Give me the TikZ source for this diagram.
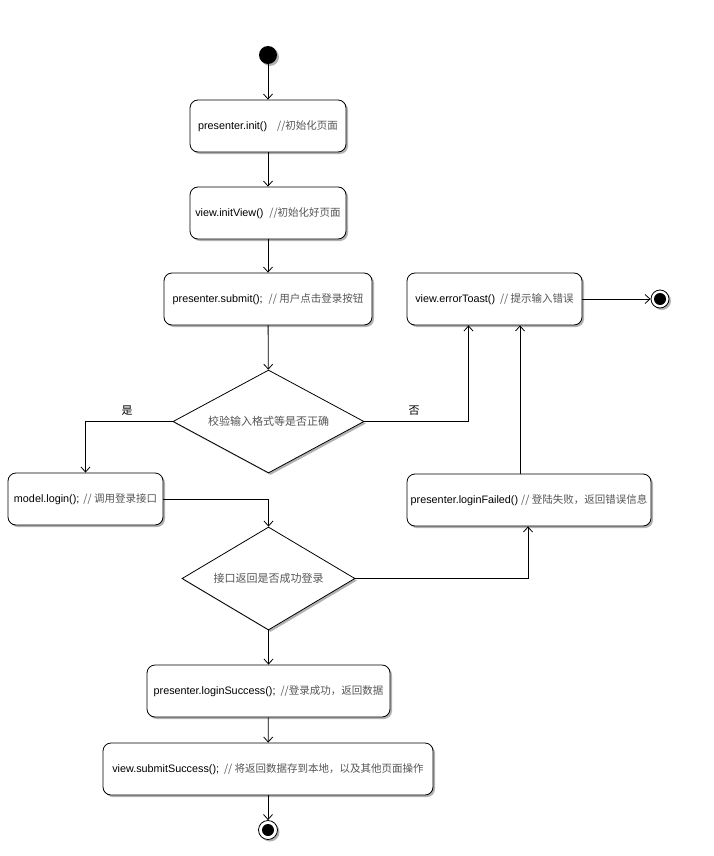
\documentclass[tikz,border=0pt]{standalone}
\usepackage{fontspec}
\setmainfont{Liberation Sans}
\newfontfamily\cjk{Noto Sans CJK SC}
\usetikzlibrary{arrows.meta,shapes.geometric,shadows}
\definecolor{zhgray}{HTML}{555555}
\newcommand\zh[1]{{\cjk\fontsize{10.5}{12}\selectfont\color{zhgray}#1}}
\begin{document}
\begin{tikzpicture}[x=1pt,y=-1pt,
  font=\fontsize{10.8}{12}\selectfont,
  line width=0.8pt,
  arr/.style={-{Straight Barb[length=5pt,width=9pt]}},
  shad/.style={drop shadow={shadow xshift=2pt,shadow yshift=-2pt,fill=black!30,opacity=1}},
  act/.style={draw,rounded corners=8pt,fill=white,minimum height=52pt,inner sep=2pt,shad},
  dec/.style={draw,diamond,aspect=1.85,inner sep=0pt,fill=white,shad},
  lbl/.style={font=\cjk\fontsize{11}{12}\selectfont}
]
\useasboundingbox (0,0) rectangle (713,856);

\node[circle,fill=black,minimum size=18pt,inner sep=0pt,shad] (start) at (268,55) {};

\node[act,minimum width=156pt] (init) at (268,126) {presenter.init()\hspace{10pt}\zh{//初始化页面}};
\node[act,minimum width=156pt] (iview) at (268,213) {view.initView()\hspace{6pt}\zh{//初始化好页面}};
\node[act,minimum width=208pt] (submit) at (268,299) {presenter.submit();\hspace{6pt}\zh{// 用户点击登录按钮}};
\node[act,minimum width=175pt] (toast) at (494.5,299) {view.errorToast()\hspace{5pt}\zh{// 提示输入错误}};

\node[dec,minimum width=191pt,minimum height=103pt] (check) at (268.5,421.5) {\zh{\fontsize{11}{12}\selectfont 校验输入格式等是否正确}};

\node[act,minimum width=155pt] (login) at (85.5,499) {model.login();\hspace{4pt}\zh{// 调用登录接口}};
\node[act,minimum width=244pt] (failed) at (529,500) {presenter.loginFailed() \zh{// 登陆失败，返回错误信息}};

\node[dec,minimum width=173pt,minimum height=103pt] (ok) at (268.5,578.5) {\zh{\fontsize{11}{12}\selectfont 接口返回是否成功登录}};

\node[act,minimum width=243pt] (succ) at (268.5,691) {presenter.loginSuccess();\hspace{5pt}\zh{//登录成功，返回数据}};
\node[act,minimum width=330pt] (store) at (268,769) {view.submitSuccess();\hspace{5pt}\zh{// 将返回数据存到本地，以及其他页面操作}};

\node[circle,draw,fill=white,minimum size=19pt,inner sep=0pt,shad] (end1) at (268,830) {};
\node[circle,fill=black,minimum size=12pt,inner sep=0pt] (end1in) at (end1) {};
\node[circle,draw,fill=white,minimum size=18pt,inner sep=0pt,shad] (end2) at (660,299) {};
\node[circle,fill=black,minimum size=12pt,inner sep=0pt] (end2in) at (end2) {};

\node[lbl] (yes) at (127,411) {是};
\node[lbl] (no) at (414,411) {否};

\coordinate (ta) at ([xshift=-26pt]toast.south);
\coordinate (fa) at ([xshift=-9pt]failed.north);
\coordinate (fb) at ([xshift=-1pt]failed.south);

\draw[arr] (start) -- (init);
\draw[arr] (init) -- (iview);
\draw[arr] (iview) -- (submit);
\draw[arr] (submit) -- (check);
\draw[arr] (check.west) -| (login.north);
\draw[arr] (check.east) -| (ta);
\draw[arr] (fa) -- (fa |- toast.south);
\draw[arr] (login.east) -| (ok.north);
\draw[arr] (ok.east) -| (fb);
\draw[arr] (ok) -- (succ);
\draw[arr] (succ) -- (store);
\draw[arr] (store) -- (end1);
\draw[arr] (toast) -- (end2);
\end{tikzpicture}
\end{document}
